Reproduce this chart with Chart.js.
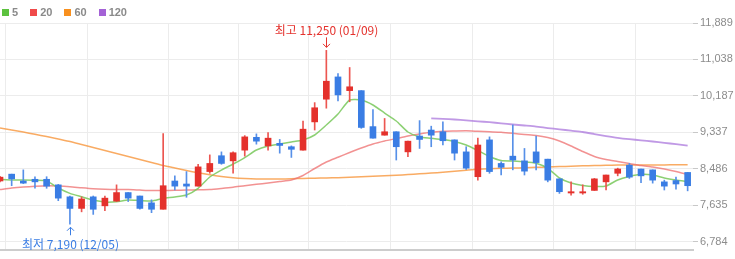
<!DOCTYPE html>
<html><head><meta charset="utf-8">
<script src="https://cdn.jsdelivr.net/npm/chart.js@4.4.1/dist/chart.umd.min.js"></script>
<style>
html,body{margin:0;padding:0;background:#fff;}
#wrap{position:relative;width:735px;height:259px;overflow:hidden;}
canvas{position:absolute;left:0;top:0;}
#legend{position:absolute;left:2px;top:5px;display:flex;font:bold 11px "Liberation Sans",Arial,sans-serif;color:#8a8a8a;line-height:14px;z-index:2;}
.item{display:flex;align-items:center;margin-right:12px;}
.sw{width:7px;height:7px;margin-right:3px;}
</style></head><body>
<div id="wrap"><canvas id="c" width="735" height="259"></canvas><div id="legend"></div></div>
<script>
const categories = ['11/27','11/28','11/29','12/02','12/03','12/04','12/05','12/06','12/09','12/10','12/11','12/12','12/13','12/16','12/17','12/18','12/19','12/20','12/23','12/24','12/26','12/27','12/30','01/02','01/03','01/06','01/07','01/08','01/09','01/10','01/13','01/14','01/15','01/16','01/17','01/20','01/21','01/22','01/23','01/24','01/31','02/03','02/04','02/05','02/06','02/07','02/10','02/11','02/12','02/13','02/14','02/17','02/18','02/19','02/20','02/21','02/24','02/25','02/26','02/27'];
const opens  = [8200,8360,8200,8240,8240,8110,7830,7560,7830,7620,7730,7930,7850,7690,7540,8200,8130,8080,8420,8790,8670,8920,9220,9020,9080,9000,8920,9580,10110,10630,10310,10310,9470,9270,9350,8880,9250,9390,9350,9160,8880,8300,9160,8610,8780,8670,8880,8710,8250,7920,7920,7980,8180,8380,8570,8480,8460,8180,8210,8400];
const highs  = [8310,8360,8460,8300,8300,8120,7850,7830,7850,7850,8110,7930,7850,7760,9310,8320,8420,8590,8810,8880,8880,9260,9300,9330,9170,9020,9600,10030,11250,10710,10850,10310,9870,9660,9350,9130,9610,9480,9580,9160,9000,9200,9230,8650,9510,8960,9250,8710,8250,8180,8110,8260,8340,8500,8610,8480,8460,8220,8290,8400];
const lows   = [8180,8090,8140,8030,8030,7740,7190,7480,7420,7510,7720,7720,7540,7460,7540,7990,7820,8080,8380,8590,8380,8780,9060,8920,8850,8750,8920,9390,9900,10070,10050,9430,9200,9270,8690,8770,8960,9000,9040,8690,8470,8220,8380,8340,8460,8340,8460,8180,7910,7870,7890,7980,7990,8320,8260,8160,8150,7990,8010,7970];
const closes = [8290,8250,8150,8180,8080,7800,7560,7780,7540,7800,7930,7800,7560,7540,8090,8080,8080,8530,8610,8610,8860,9230,9130,9200,9030,8940,9410,9910,10530,10210,10400,9450,9200,9350,9000,9130,9170,9270,9140,8850,8500,9040,8420,8520,8690,8430,8630,8220,7950,7950,7950,8250,8340,8480,8290,8320,8220,8080,8130,8090];
const ma5   = [8239,8223,8223,8216,8200,8036,7912,7833,7756,7709,7716,7756,7744,7733,7796,7826,7873,8029,8293,8456,8597,8748,8923,9017,9064,9110,9157,9274,9507,9764,10091,10091,9974,9787,9601,9344,9227,9199,9169,9122,9040,8912,8772,8678,8667,8650,8613,8496,8270,8153,8095,8071,8083,8223,8305,8356,8340,8270,8223,8188];
const ma20  = [8001,8036,8060,8076,8088,8083,8067,8041,8018,8006,8001,8001,7989,7978,7978,7983,7989,7994,8001,8025,8053,8090,8123,8153,8188,8223,8328,8492,8643,8755,8865,8970,9064,9134,9192,9250,9297,9337,9360,9367,9372,9360,9348,9337,9313,9285,9262,9215,9134,9017,8888,8772,8702,8655,8608,8562,8527,8480,8421,8351];
const ma60  = [9437,9391,9344,9290,9239,9180,9122,9052,8982,8912,8842,8772,8702,8632,8562,8503,8445,8391,8344,8305,8274,8256,8246,8246,8246,8253,8260,8265,8270,8277,8286,8298,8312,8323,8335,8351,8368,8386,8405,8426,8450,8473,8487,8496,8503,8510,8520,8527,8536,8545,8555,8562,8566,8571,8573,8573,8576,8576,8578,8578];
const ma120 = [null,null,null,null,null,null,null,null,null,null,null,null,null,null,null,null,null,null,null,null,null,null,null,null,null,null,null,null,null,null,null,null,null,null,null,null,null,9664,9652,9636,9617,9594,9573,9547,9519,9496,9472,9437,9407,9374,9344,9297,9250,9208,9176,9150,9122,9092,9059,9024];
const maNames = ['5','20','60','120'];
const tickLabels = ['6,784','7,635','8,486','9,337','10,187','11,038','11,889'];
const gridDates = ['12/03','12/12','12/23','01/02','01/13','01/22','02/06','02/17','02/26'];

const UP = '#e4312c', DOWN = '#3a7de4', UPW = '#ec5651', DOWNW = '#5790e8';
const swatch = ['#5cc23e','#f04a4a','#f8901e','#a462d6'];
const lineCol = ['rgba(120,200,90,0.85)','rgba(238,110,110,0.75)','rgba(247,150,60,0.8)','rgba(176,128,222,0.8)'];

const lg = document.getElementById('legend');
maNames.forEach((n,i)=>{
  const it = document.createElement('div'); it.className='item';
  const s = document.createElement('div'); s.className='sw'; s.style.background=swatch[i];
  const t = document.createElement('span'); t.textContent=n;
  it.appendChild(s); it.appendChild(t); lg.appendChild(it);
});

const tickValues = tickLabels.map(s=>Number(s.replace(/,/g,'')));
const isUp = categories.map((_,i)=>closes[i]>=opens[i]);
const pts = arr => arr.map((v,i)=>({x:i,y:v}));

const extremes = {
  id:'extremes',
  afterDraw(chart){
    const {ctx} = chart; const xs = chart.scales.x, ys = chart.scales.y;
    const hi = Math.max(...highs), lo = Math.min(...lows);
    const hiIdx = highs.indexOf(hi), loIdx = lows.indexOf(lo);
    const fmt = v => v.toLocaleString('en-US');
    ctx.save();
    ctx.font = '12px "Noto Sans CJK KR", sans-serif';
    ctx.textAlign='center'; ctx.textBaseline='middle'; ctx.lineWidth=1;
    let px = Math.round(xs.getPixelForValue(hiIdx))+0.5, py = ys.getPixelForValue(hi);
    ctx.strokeStyle = ctx.fillStyle = '#e4312c';
    ctx.beginPath(); ctx.moveTo(px,py-13); ctx.lineTo(px,py-3);
    ctx.moveTo(px-3.5,py-6.5); ctx.lineTo(px,py-3); ctx.lineTo(px+3.5,py-6.5); ctx.stroke();
    ctx.fillText('최고 '+fmt(hi)+' ('+categories[hiIdx]+')', px, py-20);
    px = Math.round(xs.getPixelForValue(loIdx))+0.5; py = ys.getPixelForValue(lo);
    ctx.strokeStyle = ctx.fillStyle = '#3a7de4';
    ctx.beginPath(); ctx.moveTo(px,py+11); ctx.lineTo(px,py+3);
    ctx.moveTo(px-3.5,py+6.5); ctx.lineTo(px,py+3); ctx.lineTo(px+3.5,py+6.5); ctx.stroke();
    ctx.fillText('최저 '+fmt(lo)+' ('+categories[loIdx]+')', px, py+20);
    ctx.restore();
  }
};

new Chart(document.getElementById('c'), {
  type:'bar',
  data:{ datasets:[
    {label:'body', data: categories.map((_,i)=>({x:i,y:[opens[i],closes[i]]})), backgroundColor: isUp.map(u=>u?UP:DOWN), barThickness:6, minBarLength:1, grouped:false, order:0},
    {label:'wick', data: categories.map((_,i)=>({x:i,y:[lows[i],highs[i]]})), backgroundColor: isUp.map(u=>u?UPW:DOWNW), barThickness:1, grouped:false, order:1},
    {type:'line', label:maNames[0], data:pts(ma5), borderColor:lineCol[0], borderWidth:1.5, pointRadius:0, tension:0.2, order:2},
    {type:'line', label:maNames[1], data:pts(ma20), borderColor:lineCol[1], borderWidth:1.5, pointRadius:0, tension:0.2, order:3},
    {type:'line', label:maNames[2], data:pts(ma60), borderColor:lineCol[2], borderWidth:1.5, pointRadius:0, tension:0.2, order:4},
    {type:'line', label:maNames[3], data:pts(ma120), borderColor:lineCol[3], borderWidth:1.8, pointRadius:0, tension:0.2, order:5}
  ]},
  options:{
    responsive:false, devicePixelRatio:1, animation:false,
    layout:{padding:{top:23,left:0,right:0,bottom:0}},
    plugins:{legend:{display:false}, tooltip:{enabled:false}},
    scales:{
      x:{type:'linear', position:'bottom', min:0, max:59.46, offset:false, bounds:'data',
        afterBuildTicks(s){ s.ticks = gridDates.map(d=>({value:categories.indexOf(d)})); },
        afterFit(s){ s.height = 9; },
        ticks:{display:false},
        grid:{color:'#ececec', drawTicks:false},
        border:{display:true, color:'#cdcdcd', width:2}
      },
      y:{type:'linear', position:'right', min:6589, max:11889, bounds:'data',
        afterBuildTicks(s){ s.ticks = tickValues.map(v=>({value:v})); },
        afterFit(s){ s.width = 42; },
        ticks:{color:'#8c8c8c', padding:2, font:{family:'"Liberation Sans", Arial, sans-serif', size:11},
          callback:(v)=>tickLabels[tickValues.indexOf(v)]},
        grid:{color:'#ececec', drawTicks:true, tickLength:5, tickColor:'#c8c8c8'},
        border:{display:false}
      }
    }
  },
  plugins:[extremes]
});
</script>
</body></html>
